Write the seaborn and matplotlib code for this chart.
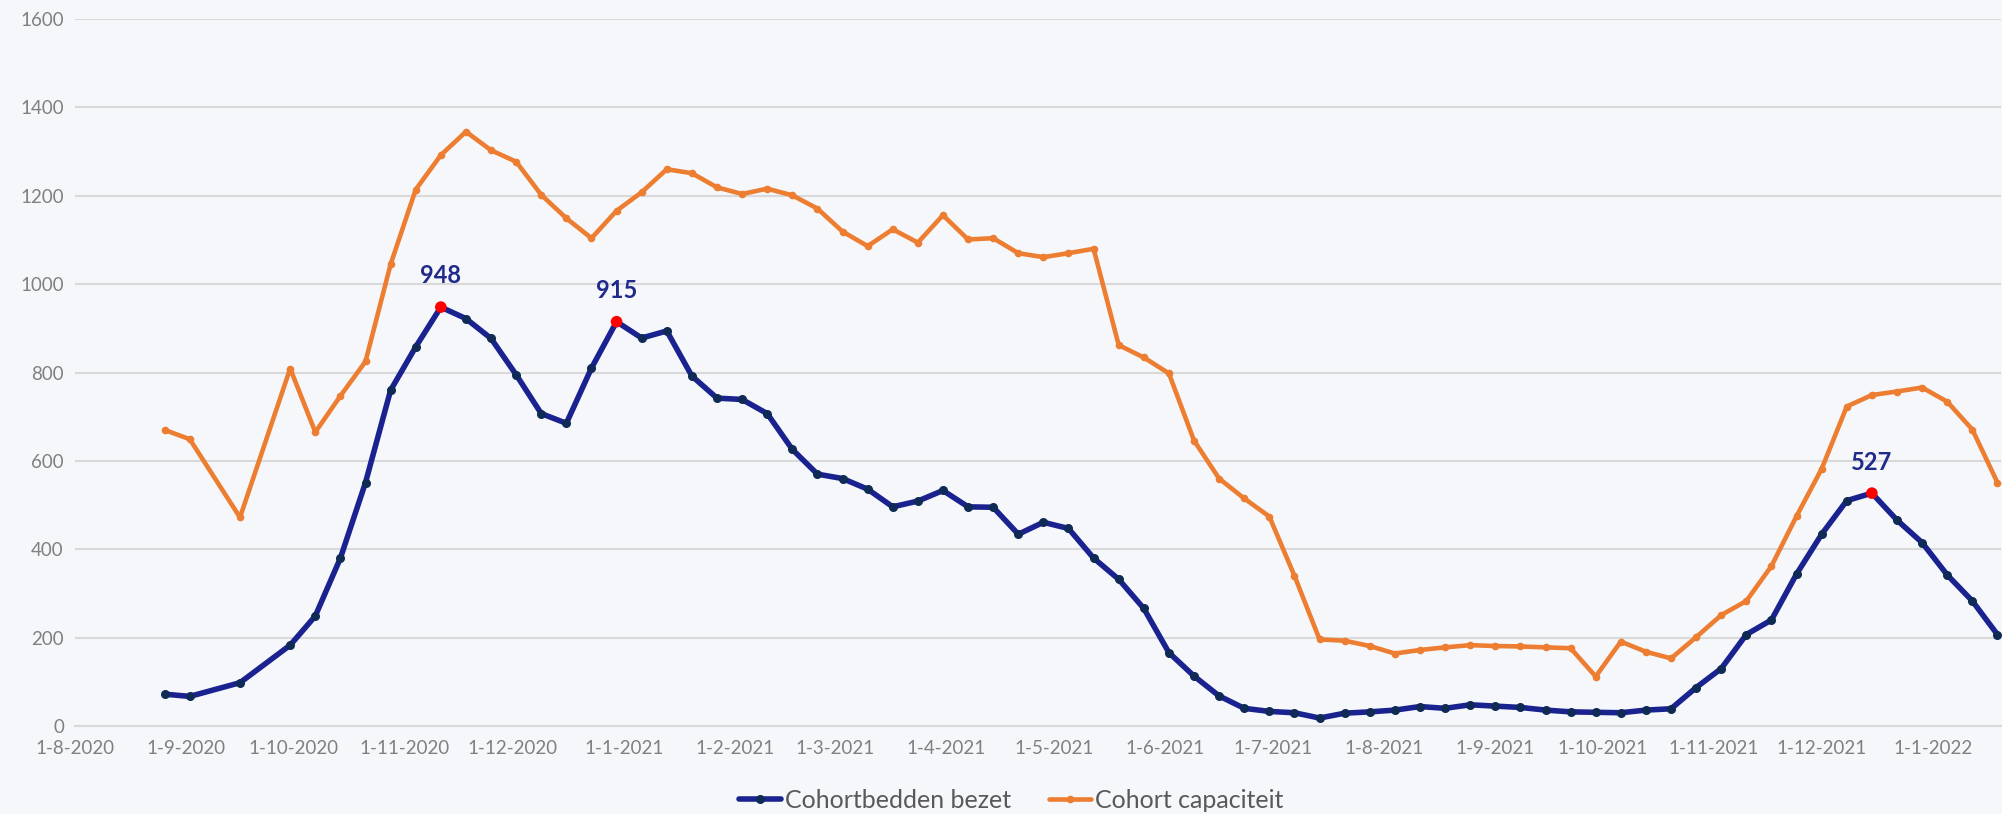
import pandas as pd
import matplotlib.pyplot as plt
import matplotlib.dates as mdates
from matplotlib.ticker import FuncFormatter, MultipleLocator
import seaborn as sns

# weekly measurements (Wednesdays)
dates = ['2020-08-26', '2020-09-02', '2020-09-16', '2020-09-30', '2020-10-07', '2020-10-14',
         '2020-10-21', '2020-10-28', '2020-11-04', '2020-11-11', '2020-11-18', '2020-11-25',
         '2020-12-02', '2020-12-09', '2020-12-16', '2020-12-23', '2020-12-30', '2021-01-06',
         '2021-01-13', '2021-01-20', '2021-01-27', '2021-02-03', '2021-02-10', '2021-02-17',
         '2021-02-24', '2021-03-03', '2021-03-10', '2021-03-17', '2021-03-24', '2021-03-31',
         '2021-04-07', '2021-04-14', '2021-04-21', '2021-04-28', '2021-05-05', '2021-05-12',
         '2021-05-19', '2021-05-26', '2021-06-02', '2021-06-09', '2021-06-16', '2021-06-23',
         '2021-06-30', '2021-07-07', '2021-07-14', '2021-07-21', '2021-07-28', '2021-08-04',
         '2021-08-11', '2021-08-18', '2021-08-25', '2021-09-01', '2021-09-08', '2021-09-15',
         '2021-09-22', '2021-09-29', '2021-10-06', '2021-10-13', '2021-10-20', '2021-10-27',
         '2021-11-03', '2021-11-10', '2021-11-17', '2021-11-24', '2021-12-01', '2021-12-08',
         '2021-12-15', '2021-12-22', '2021-12-29', '2022-01-05', '2022-01-12', '2022-01-19']

bezet = [72, 67, 98, 183, 249, 380, 551, 760, 858, 948,
         922, 877, 795, 707, 685, 810, 915, 878, 894, 792,
         742, 739, 707, 626, 570, 560, 536, 496, 509, 533,
         496, 495, 434, 461, 447, 380, 332, 266, 166, 113,
         68, 40, 33, 30, 18, 29, 32, 36, 44, 40,
         48, 45, 42, 36, 32, 31, 30, 36, 39, 87,
         130, 207, 240, 344, 434, 510, 527, 466, 415, 342,
         283, 207]

capaciteit = [670, 649, 472, 809, 665, 747, 825, 1045, 1214, 1292,
              1345, 1303, 1277, 1202, 1149, 1104, 1166, 1208, 1260, 1251,
              1219, 1204, 1216, 1201, 1171, 1119, 1086, 1124, 1094, 1156,
              1101, 1104, 1070, 1061, 1070, 1080, 862, 834, 798, 646,
              560, 515, 474, 340, 196, 193, 181, 164, 172, 178,
              183, 181, 180, 178, 176, 112, 191, 168, 153, 201,
              251, 283, 362, 475, 582, 723, 749, 757, 766, 734,
              671, 551]

peak_dates = ['2020-11-11', '2020-12-30', '2021-12-15']

df = pd.DataFrame({'datum': pd.to_datetime(dates), 'bezet': bezet, 'capaciteit': capaciteit})
peaks = df[df['datum'].isin(pd.to_datetime(peak_dates))]

sns.set_theme(style='white')
plt.rcParams['font.family'] = ['Lato', 'DejaVu Sans']

bg = '#F5F7FA'
blue = '#1A2290'
orange = '#ED7D31'
grey = '#808080'

fig = plt.figure(figsize=(20.02, 8.14), dpi=100, facecolor=bg)
ax = fig.add_axes([75 / 2002, 88 / 814, 1926 / 2002, 707 / 814])
ax.set_facecolor(bg)

sns.lineplot(data=df, x='datum', y='bezet', ax=ax, color=blue, lw=4.0,
             marker='o', markersize=6.5, markerfacecolor='#0E2A55', markeredgewidth=0,
             label='Cohortbedden bezet', zorder=4)
sns.lineplot(data=df, x='datum', y='capaciteit', ax=ax, color=orange, lw=3.3,
             marker='o', markersize=5.5, markeredgewidth=0,
             label='Cohort capaciteit', zorder=3)

# highlighted peaks
sns.scatterplot(data=peaks, x='datum', y='bezet', ax=ax, color='#FF0000', s=70,
                edgecolor='none', zorder=5, legend=False)
for _, row in peaks.iterrows():
    ax.annotate(f"{row['bezet']}", (row['datum'], row['bezet']), xytext=(0, 17),
                textcoords='offset points', ha='center', va='baseline',
                fontsize=17, fontweight='bold', color='#1F2A8A')

ax.set_xlim(pd.Timestamp('2020-08-01'), pd.Timestamp('2022-01-20'))
ax.set_ylim(0, 1600)
ax.yaxis.set_major_locator(MultipleLocator(200))
ax.xaxis.set_major_locator(mdates.MonthLocator())
ax.xaxis.set_major_formatter(FuncFormatter(
    lambda v, p: f"{mdates.num2date(v).day}-{mdates.num2date(v).month}-{mdates.num2date(v).year}"))

ax.grid(axis='y', color='#D9D9D9', lw=1.5)
ax.set_axisbelow(True)
for s in ['top', 'right', 'left']:
    ax.spines[s].set_visible(False)
ax.spines['bottom'].set_color('#D9D9D9')
ax.spines['bottom'].set_linewidth(1.5)
ax.tick_params(axis='x', length=4, width=1.2, color='#C8C8C8', labelsize=13.5,
               labelcolor=grey, pad=6)
ax.tick_params(axis='y', length=0, labelsize=13.5, labelcolor=grey, pad=8)
ax.set_xlabel('')
ax.set_ylabel('')

leg = ax.legend(loc='lower center', bbox_to_anchor=(0.505, -0.025), bbox_transform=fig.transFigure,
                ncol=2, frameon=False, fontsize=18, handlelength=1.7, handletextpad=0.15,
                columnspacing=1.5, numpoints=1)
for t in leg.get_texts():
    t.set_color('#595959')

fig.savefig('out.png', dpi=100, facecolor=bg)
